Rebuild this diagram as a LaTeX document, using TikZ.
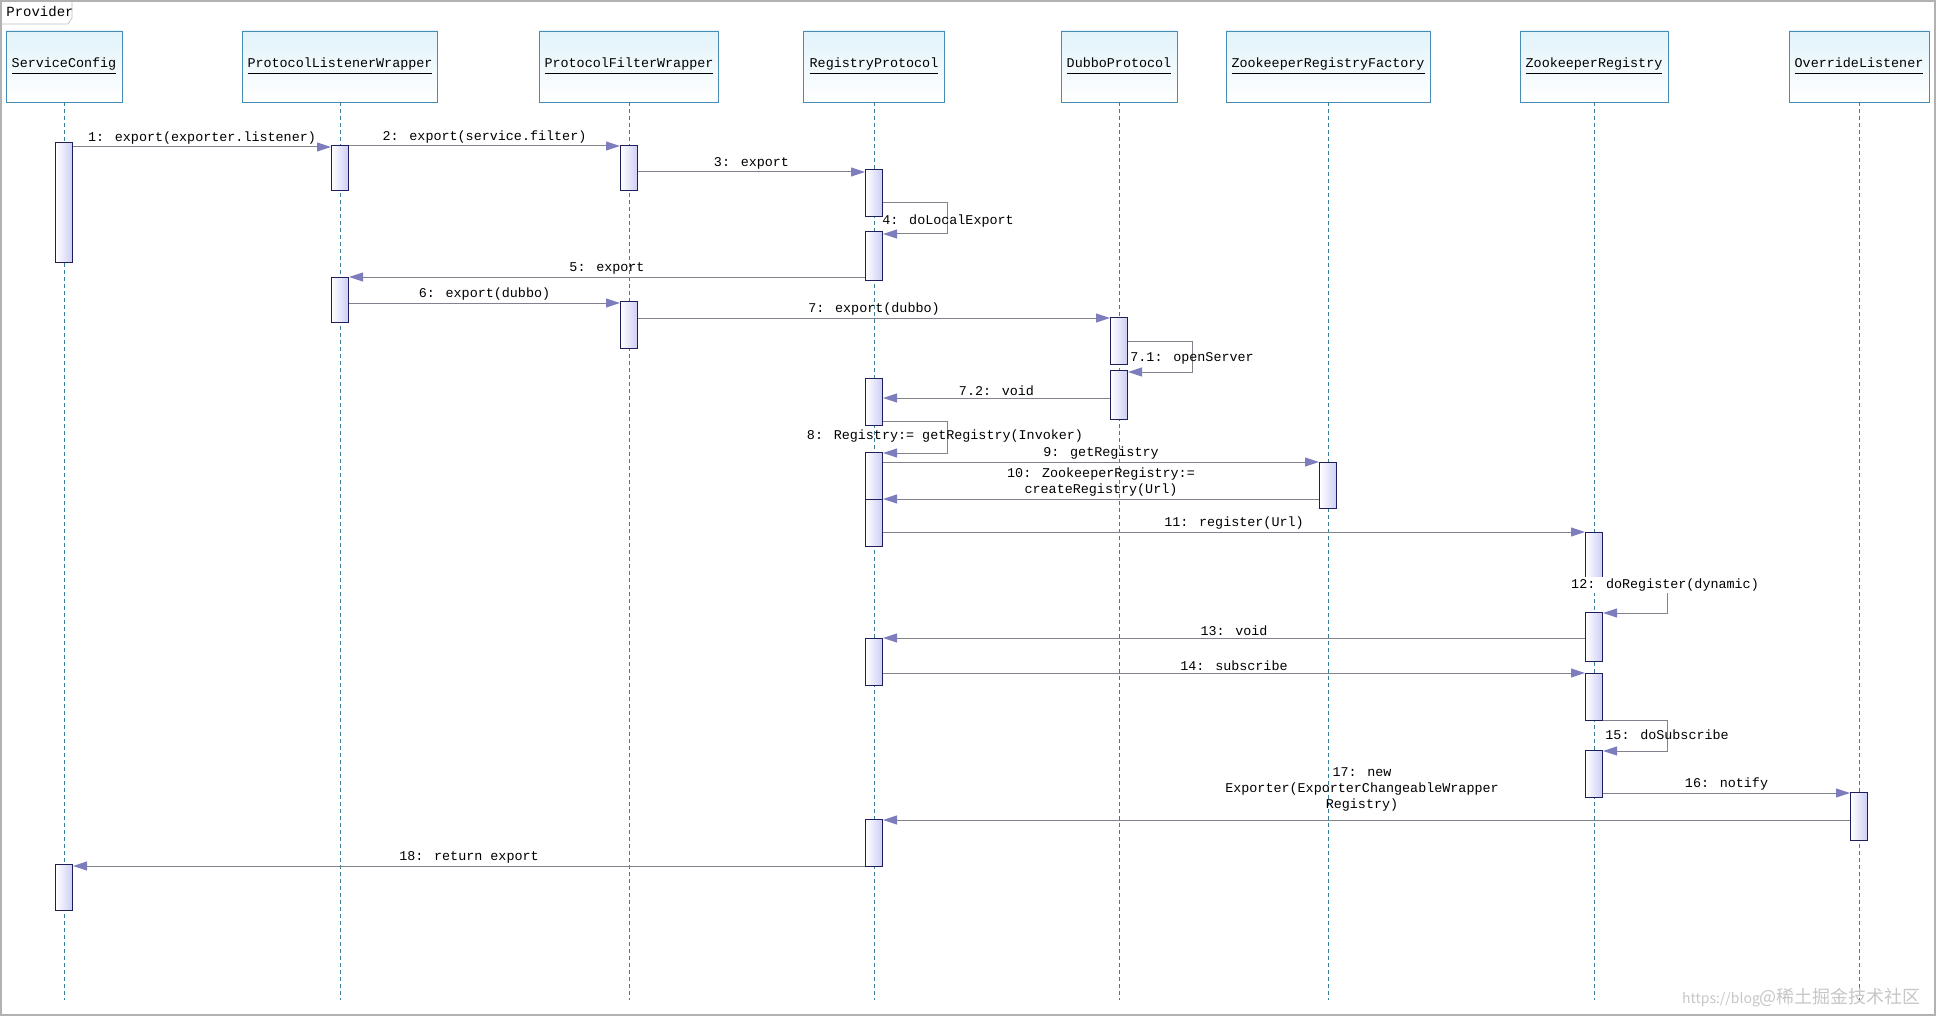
\documentclass[tikz,border=0pt]{standalone}
\usepackage{fontspec}
\setmainfont{Liberation Mono}
\newfontfamily\cjk{Noto Sans CJK SC}
\usetikzlibrary{arrows.meta}
\definecolor{hdrb}{RGB}{70,140,180}
\definecolor{hdrf}{RGB}{225,243,250}
\definecolor{actf}{RGB}{205,205,245}
\definecolor{actb}{RGB}{30,30,90}
\definecolor{tipc}{RGB}{125,125,190}
\definecolor{msgc}{RGB}{130,130,140}
\definecolor{lifec}{RGB}{60,130,150}
\tikzset{
  hdr/.style={draw=hdrb,top color=hdrf,bottom color=white,inner sep=0pt,font=\fontsize{6.7}{8}\selectfont},
  act/.style={draw=actb,left color=white,right color=actf,minimum width=8.5pt,inner sep=0pt,line width=0.5pt},
  life/.style={draw=lifec,dashed,dash pattern=on 2pt off 1.5pt,line width=0.4pt},
  msg/.style={draw=msgc,line width=0.5pt,-{Triangle[length=7pt,width=4.5pt,fill=tipc,color=tipc]}},
  lbl/.style={font=\fontsize{6.7}{8}\selectfont,inner sep=1pt,align=center}
}
\newcommand\hdrnode[5]{\node[hdr,minimum width=#3*0.5pt,minimum height=35.5pt] (#1) at (#2,66.5) {\underline{#4\vphantom{gy}}};}
\newcommand\actnode[4]{\node[act,minimum height=(#4-#3)*0.5pt] (#1) at (#2,{(#3+#4)/2}) {};}
\begin{document}
\begin{tikzpicture}[x=0.5pt,y=-0.5pt]
\useasboundingbox (0,0) rectangle (1936,1016);
\draw[gray!60,line width=0.8pt] (1,1) rectangle (1935,1015);
\node[anchor=north west,lbl,inner sep=2pt,font=\fontsize{7}{8}\selectfont] (prov) at (2,2) {Provider};
\draw[gray!50] (2,24) -- (68,24) -- (72,18) -- (72,2);
% headers
\hdrnode{SC}{64}{116}{ServiceConfig}{}
\hdrnode{PLW}{340}{195}{ProtocolListenerWrapper}{}
\hdrnode{PFW}{629}{179}{ProtocolFilterWrapper}{}
\hdrnode{RP}{874}{141}{RegistryProtocol}{}
\hdrnode{DP}{1119}{116}{DubboProtocol}{}
\hdrnode{ZRF}{1328}{204}{ZookeeperRegistryFactory}{}
\hdrnode{ZR}{1594}{148}{ZookeeperRegistry}{}
\hdrnode{OL}{1859}{140}{OverrideListener}{}
% lifeline ends
\foreach \n/\x in {SC/64,PLW/340,PFW/629,RP/874,DP/1119,ZRF/1328,ZR/1594,OL/1859}{
  \coordinate (\n e) at (\x,1000);
  \draw[life] (\n.south) -- (\n e);
}
% activations
\actnode{sc1}{64}{143}{262}
\actnode{sc2}{64}{864}{910}
\actnode{plw1}{340}{146}{191}
\actnode{plw2}{340}{277}{322}
\actnode{pfw1}{629}{146}{191}
\actnode{pfw2}{629}{301}{348}
\actnode{rp1}{874}{170}{217}
\actnode{rp2}{874}{232}{280}
\actnode{rp3}{874}{378}{425}
\actnode{rp4}{874}{452}{499}
\actnode{rp5}{874}{499}{546}
\actnode{rp6}{874}{638}{685}
\actnode{rp7}{874}{819}{866}
\actnode{dp1}{1119}{317}{364}
\actnode{dp2}{1119}{370}{419}
\actnode{zrf1}{1328}{462}{508}
\actnode{zr1}{1594}{532}{579}
\actnode{zr2}{1594}{612}{661}
\actnode{zr3}{1594}{673}{720}
\actnode{zr4}{1594}{750}{797}
\actnode{ol1}{1859}{792}{840}
% messages
\draw[msg] (sc1.east |- 0,147) -- node[lbl,above]{1: export(exporter.listener)} (plw1.west |- 0,147);
\draw[msg] (plw1.east |- 0,146) -- node[lbl,above]{2: export(service.filter)} (pfw1.west |- 0,146);
\draw[msg] (pfw1.east |- 0,172) -- node[lbl,above]{3: export} (rp1.west |- 0,172);
\draw[msg] (rp1.east |- 0,203) -- (947,203) -- (947,234) -- (rp2.east |- 0,234);
\node[lbl,anchor=west] (l4) at (880,221) {4: doLocalExport};
\draw[msg] (rp2.west |- 0,277) -- node[lbl,above]{5: export} (plw2.east |- 0,277);
\draw[msg] (plw2.east |- 0,303) -- node[lbl,above]{6: export(dubbo)} (pfw2.west |- 0,303);
\draw[msg] (pfw2.east |- 0,318) -- node[lbl,above]{7: export(dubbo)} (dp1.west |- 0,318);
\draw[msg] (dp1.east |- 0,341) -- (1192,341) -- (1192,372) -- (dp2.east |- 0,372);
\node[lbl,anchor=west] (l71) at (1128,358) {7.1: openServer};
\draw[msg] (dp2.west |- 0,398) -- node[lbl,above]{7.2: void} (rp3.east |- 0,398);
\draw[msg] (rp3.east |- 0,421) -- (947,421) -- (947,453) -- (rp4.east |- 0,453);
\node[lbl] (l8) at (945,436) {8: Registry:= getRegistry(Invoker)};
\draw[msg] (rp4.east |- 0,462) -- node[lbl,above]{9: getRegistry} (zrf1.west |- 0,462);
\draw[msg] (zrf1.west |- 0,499) -- node[lbl,above]{10: ZookeeperRegistry:=\\createRegistry(Url)} (rp5.east |- 0,499);
\draw[msg] (rp5.east |- 0,532) -- node[lbl,above]{11: register(Url)} (zr1.west |- 0,532);
\draw[msg] (zr1.east |- 0,579) -- (1667,579) -- (1667,613) -- (zr2.east |- 0,613);
\node[lbl,fill=white] (l12) at (1665,585) {12: doRegister(dynamic)};
\draw[msg] (zr2.west |- 0,638) -- node[lbl,above]{13: void} (rp6.east |- 0,638);
\draw[msg] (rp6.east |- 0,673) -- node[lbl,above]{14: subscribe} (zr3.west |- 0,673);
\draw[msg] (zr3.east |- 0,720) -- (1667,720) -- (1667,751) -- (zr4.east |- 0,751);
\node[lbl,anchor=west] (l15) at (1603,735) {15: doSubscribe};
\draw[msg] (zr4.east |- 0,793) -- node[lbl,above]{16: notify} (ol1.west |- 0,793);
\draw[msg] (ol1.west |- 0,820) -- (rp7.east |- 0,820);
\node[lbl] (l17) at (1362,789) {17: new\\Exporter(ExporterChangeableWrapper\\Registry)};
\draw[msg] (rp7.west |- 0,866) -- node[lbl,above]{18: return export} (sc2.east |- 0,866);
\node[anchor=east,text=gray!45,font=\cjk\fontsize{9}{10}\selectfont] (wm) at (1928,998) {\fontsize{7}{8}\selectfont https://blog\fontsize{9}{10}\selectfont @稀土掘金技术社区};
\end{tikzpicture}
\end{document}
